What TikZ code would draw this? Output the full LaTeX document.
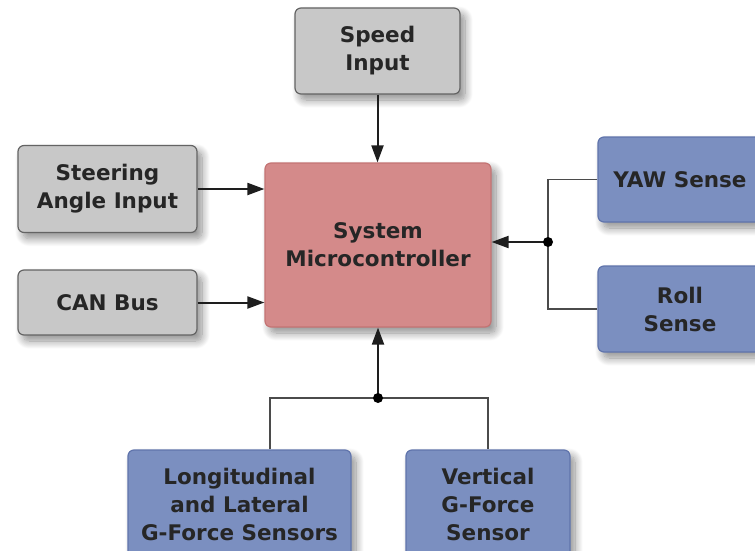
\documentclass[tikz,border=0pt]{standalone}
\usepackage{fontspec}
\setmainfont{DejaVu Sans}
\usetikzlibrary{arrows.meta,shadows.blur,calc}

\definecolor{grayfill}{RGB}{200,200,200}
\definecolor{grayline}{RGB}{100,100,100}
\definecolor{redfill}{RGB}{212,138,138}
\definecolor{redline}{RGB}{196,116,116}
\definecolor{bluefill}{RGB}{123,143,192}
\definecolor{blueline}{RGB}{96,116,172}
\definecolor{wire}{RGB}{30,30,30}

\tikzset{
  x=1pt, y=1pt,
  blk/.style={rounded corners=6pt, line width=1.2pt, align=center,
    font=\fontsize{21.5}{28}\selectfont\bfseries, text=black!85,
    inner sep=0pt,
    blur shadow={shadow xshift=5pt, shadow yshift=-6pt, shadow blur steps=12,
      shadow blur radius=8pt, shadow opacity=45}},
  inbox/.style={blk, fill=grayfill, draw=grayline},
  corebox/.style={blk, fill=redfill, draw=redline},
  sensbox/.style={blk, fill=bluefill, draw=blueline},
  feed/.style={draw=wire, line width=2pt,
    -{Triangle[length=17pt,width=12pt]}},
  branch/.style={draw=wire!80, line width=1.8pt},
  joint/.style={circle, fill=black, inner sep=0pt, minimum size=10pt}
}

\begin{document}
\begin{tikzpicture}
\useasboundingbox (0,0) rectangle (755,-551);

% input blocks
\node[inbox, minimum width=165pt, minimum height=86pt] (speed) at (377.5,-51) {Speed\\Input};
\node[inbox, minimum width=179pt, minimum height=87pt] (steer) at (107.5,-189) {Steering\\Angle Input};
\node[inbox, minimum width=179pt, minimum height=65pt] (can) at (107.5,-302.5) {CAN Bus};

% controller
\node[corebox, minimum width=226pt, minimum height=164pt] (micro) at (378,-245) {System\\Microcontroller};

% sensor blocks
\node[sensbox, minimum width=164pt, minimum height=85pt] (yaw) at (680,-179.5) {YAW Sense};
\node[sensbox, minimum width=164pt, minimum height=86pt] (roll) at (680,-309) {Roll\\Sense};
\node[sensbox, minimum width=223pt, minimum height=108pt] (long) at (239.5,-504) {Longitudinal\\and Lateral\\G-Force Sensors};
\node[sensbox, minimum width=164pt, minimum height=108pt] (vert) at (488,-504) {Vertical\\G-Force\\Sensor};

% junction points
\coordinate (jr) at (548,-242);
\coordinate (jb) at (378,-398);
\coordinate (jl) at (270,-398);

% inputs into the controller
\draw[feed] (speed.south) -- (speed.south |- micro.north);
\draw[feed] (steer.east) -- (steer.east -| micro.west);
\draw[feed] (can.east) -- (can.east -| micro.west);

% yaw / roll merge
\draw[branch] (yaw.west) -| (jr) |- (roll.west);
\draw[feed] (jr) -- (jr -| micro.east);
\node[joint] (jrdot) at (jr) {};

% g-force merge
\draw[branch] (long.north -| jl) -- (jl) -- (jb) -| (vert.north);
\draw[feed] (jb) -- (jb |- micro.south);
\node[joint] (jbdot) at (jb) {};
\end{tikzpicture}
\end{document}
